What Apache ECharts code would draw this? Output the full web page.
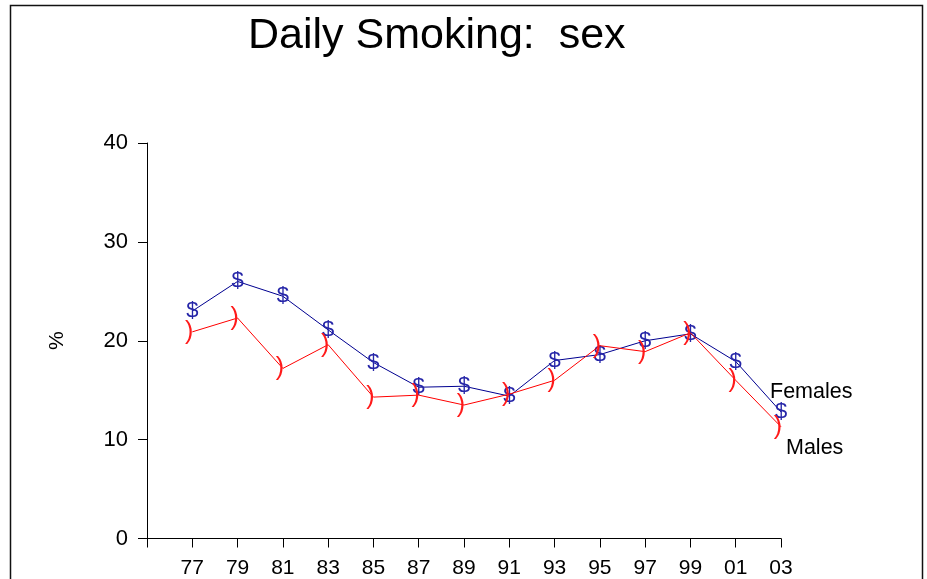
<!DOCTYPE html>
<html>
<head>
<meta charset="utf-8">
<script src="https://cdn.jsdelivr.net/npm/echarts@6/dist/echarts.min.js"></script>
<style>
html,body{margin:0;padding:0;background:#fff;}
#c{width:927px;height:579px;}
</style>
</head>
<body>
<div id="c"></div>
<script>
var years = [1977, 1979, 1981, 1983, 1985, 1987, 1989, 1991, 1993, 1995, 1997, 1999, 2001, 2003];
var tickLabels = ['77', '79', '81', '83', '85', '87', '89', '91', '93', '95', '97', '99', '01', '03'];
var females = [23.0, 26.0, 24.5, 21.1, 17.8, 15.3, 15.4, 14.4, 18.0, 18.6, 20.0, 20.7, 17.9, 12.8];
var males = [20.9, 22.3, 17.2, 19.6, 14.3, 14.5, 13.5, 14.6, 16.0, 19.5, 18.9, 20.8, 16.0, 11.3];
var yTicks = [0, 10, 20, 30, 40];

var FONT = '"Liberation Sans", Arial, sans-serif';

function pairs(vals) {
  return years.map(function (y, i) { return [y, vals[i]]; });
}

var chart = echarts.init(document.getElementById('c'), null, {renderer: 'canvas'});
chart.setOption({
  animation: false,
  backgroundColor: '#fff',
  title: {
    text: 'Daily Smoking:  sex',
    left: 243,
    top: 10,
    textStyle: {fontFamily: FONT, fontSize: 43, fontWeight: 'normal', color: '#000'}
  },
  graphic: [{
    type: 'rect',
    shape: {x: 10.5, y: 5.5, width: 912, height: 620},
    style: {fill: 'none', stroke: '#111', lineWidth: 1.5},
    silent: true
  }],
  grid: {left: 147, right: 146, top: 143, bottom: 40.5, containLabel: false},
  xAxis: {
    type: 'value',
    min: 1975,
    max: 2003,
    interval: 2,
    splitLine: {show: false},
    axisLine: {show: true, lineStyle: {color: '#000', width: 1}},
    axisTick: {show: true, length: 9, lineStyle: {color: '#000'}},
    axisLabel: {
      margin: 19,
      fontFamily: FONT, fontSize: 21, color: '#000',
      formatter: function (v) {
        var i = years.indexOf(v);
        return i >= 0 ? tickLabels[i] : '';
      }
    }
  },
  yAxis: {
    type: 'value',
    min: yTicks[0],
    max: yTicks[yTicks.length - 1],
    interval: 10,
    name: '%',
    nameLocation: 'middle',
    nameGap: 79,
    nameRotate: 90,
    nameTextStyle: {fontFamily: FONT, fontSize: 21, color: '#000'},
    splitLine: {show: false},
    axisLine: {show: true, lineStyle: {color: '#000', width: 1}},
    axisTick: {show: true, length: 9, lineStyle: {color: '#000'}},
    axisLabel: {margin: 19, fontFamily: FONT, fontSize: 22, color: '#000'}
  },
  series: [
    {
      name: 'Females',
      type: 'line',
      data: pairs(females),
      showAllSymbol: true,
      symbol: 'circle',
      symbolSize: 2,
      itemStyle: {color: 'rgba(0,0,0,0)'},
      lineStyle: {color: '#000090', width: 1},
      label: {
        show: true, position: 'inside', formatter: '$',
        fontFamily: FONT, fontSize: 22, color: '#2626a8'
      },
      endLabel: {
        show: true, formatter: 'Females', offset: [-19, -20],
        fontFamily: FONT, fontSize: 21.5, color: '#000'
      },
      z: 2
    },
    {
      name: 'Males',
      type: 'line',
      data: pairs(males),
      showAllSymbol: true,
      symbol: 'circle',
      symbolSize: 2,
      itemStyle: {color: 'rgba(0,0,0,0)'},
      lineStyle: {color: '#ff0000', width: 1},
      label: {
        show: true, position: 'inside', formatter: ')', offset: [-3, 0],
        fontFamily: FONT, fontSize: 25, color: '#ff1a1a'
      },
      endLabel: {
        show: true, formatter: 'Males', offset: [-3, 21],
        fontFamily: FONT, fontSize: 21.5, color: '#000'
      },
      z: 3
    }
  ]
});
</script>
</body>
</html>
